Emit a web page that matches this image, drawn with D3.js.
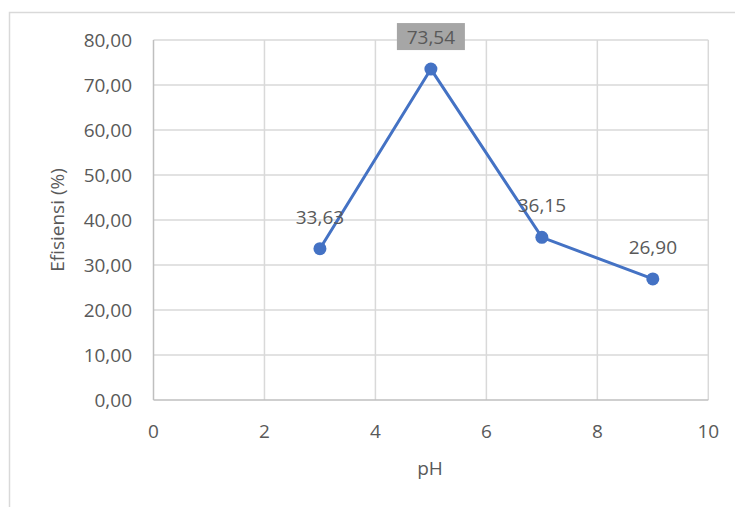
<!DOCTYPE html>
<html><head><meta charset="utf-8">
<script src="https://cdn.jsdelivr.net/npm/d3@7"></script>
<style>body{margin:0;background:#fff}svg{display:block}text{font-family:"Open Sans",sans-serif}</style>
</head><body>
<svg id="c" width="735" height="507"></svg>
<script>
const phValues = [3, 5, 7, 9];
const efficiency = [33.63, 73.54, 36.15, 26.90];
const efficiencyLabels = ["33,63", "73,54", "36,15", "26,90"];
const xTicks = [0, 2, 4, 6, 8, 10];
const yTicks = [0, 10, 20, 30, 40, 50, 60, 70, 80];
const xTitle = "pH";
const yTitle = "Efisiensi (%)";

const svg = d3.select("#c");
const pL = 153.5, pR = 708.3, pT = 40, pB = 400;
const x = d3.scaleLinear().domain([0, 10]).range([pL, pR]);
const y = d3.scaleLinear().domain([0, 80]).range([pB, pT]);
const fmt = v => d3.format(".2f")(v).replace(".", ",");

// outer border (top & left)
svg.append("path").attr("d", "M9.5,507 V12.5 H735").attr("fill", "none").attr("stroke", "#d9d9d9").attr("stroke-width", 1.5);

// gridlines
svg.append("g").selectAll("line").data(yTicks.filter(d => d > 0)).join("line")
  .attr("x1", pL).attr("x2", pR).attr("y1", d => y(d)).attr("y2", d => y(d))
  .attr("stroke", "#d9d9d9").attr("stroke-width", 1.5);
svg.append("g").selectAll("line").data(xTicks.filter(d => d > 0)).join("line")
  .attr("x1", d => x(d)).attr("x2", d => x(d)).attr("y1", pT).attr("y2", pB)
  .attr("stroke", "#d9d9d9").attr("stroke-width", 1.5);

// axes lines
svg.append("line").attr("x1", pL).attr("x2", pL).attr("y1", pT).attr("y2", pB).attr("stroke", "#bfbfbf").attr("stroke-width", 1.5);
svg.append("line").attr("x1", pL).attr("x2", pR).attr("y1", pB).attr("y2", pB).attr("stroke", "#bfbfbf").attr("stroke-width", 1.5);

// tick labels
svg.append("g").selectAll("text").data(yTicks).join("text")
  .attr("x", 132).attr("y", d => y(d)).attr("dy", "0.35em").attr("text-anchor", "end")
  .attr("font-size", 19).attr("fill", "#595959").text(fmt);
svg.append("g").selectAll("text").data(xTicks).join("text")
  .attr("x", d => x(d)).attr("y", 438).attr("text-anchor", "middle")
  .attr("font-size", 19).attr("fill", "#595959").text(d => d);

// axis titles
svg.append("text").attr("x", 430).attr("y", 475).attr("text-anchor", "middle")
  .attr("font-size", 19).attr("fill", "#595959").text(xTitle);
svg.append("text").attr("transform", `translate(64,${(pT + pB) / 2}) rotate(-90)`)
  .attr("text-anchor", "middle").attr("font-size", 19).attr("fill", "#595959").text(yTitle);

// line
const pts = phValues.map((p, i) => [p, efficiency[i]]);
svg.append("path").datum(pts)
  .attr("d", d3.line().x(d => x(d[0])).y(d => y(d[1])))
  .attr("fill", "none").attr("stroke", "#4472c4").attr("stroke-width", 3);
svg.append("g").selectAll("circle").data(pts).join("circle")
  .attr("cx", d => x(d[0])).attr("cy", d => y(d[1])).attr("r", 6.5).attr("fill", "#4472c4");

// data labels
const maxI = efficiency.indexOf(d3.max(efficiency));
const lab = svg.append("g");
pts.forEach((d, i) => {
  const cx = x(d[0]), cy = y(d[1]) - 25;
  if (i === maxI) {
    lab.append("rect").attr("x", cx - 34).attr("y", cy - 21).attr("width", 68).attr("height", 27).attr("fill", "#a6a6a6");
  }
  lab.append("text").attr("x", cx).attr("y", cy).attr("text-anchor", "middle")
    .attr("font-size", 19).attr("fill", "#595959").text(efficiencyLabels[i]);
});
</script>
</body></html>
